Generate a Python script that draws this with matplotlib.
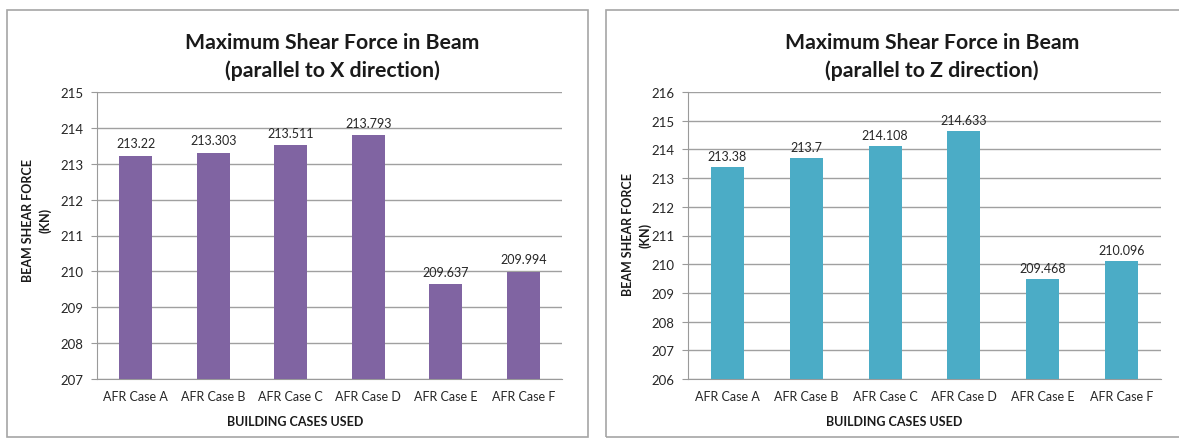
import numpy as np
import matplotlib.pyplot as plt
from matplotlib.patches import Rectangle

cases = ["AFR Case A", "AFR Case B", "AFR Case C", "AFR Case D", "AFR Case E", "AFR Case F"]
shear_x = [213.22, 213.303, 213.511, 213.793, 209.637, 209.994]
shear_z = [213.38, 213.7, 214.108, 214.633, 209.468, 210.096]
labels_x = ["213.22", "213.303", "213.511", "213.793", "209.637", "209.994"]
labels_z = ["213.38", "213.7", "214.108", "214.633", "209.468", "210.096"]

plt.rcParams['font.family'] = ['Lato', 'DejaVu Sans']

W, H = 1179, 439
fig = plt.figure(figsize=(W / 100, H / 100), dpi=100, facecolor='white')

# chart frames
fig.patches.append(Rectangle((7 / W, 0.002), 581 / W, 1 - 12 / H, transform=fig.transFigure,
                             fill=False, edgecolor='#a6a6a6', linewidth=1.2))
fig.patches.append(Rectangle((606 / W, 0.002), 590 / W, 1 - 12 / H, transform=fig.transFigure,
                             fill=False, edgecolor='#a6a6a6', linewidth=1.2))


def draw(ax, values, texts, color, ylim, title, cx, ylab_xy, xlab_x):
    x = np.arange(len(cases))
    ax.bar(x, values, width=0.42, color=color, zorder=3, bottom=0)
    ax.set_ylim(*ylim)
    ax.set_xlim(-0.5, len(cases) - 0.5)
    ax.set_yticks(range(ylim[0], ylim[1] + 1))
    ax.set_xticks(x)
    ax.set_xticklabels(cases, fontsize=9, color='#262626')
    ax.tick_params(axis='y', labelsize=9.5, labelcolor='#262626', length=4, color='#9a9a9a', pad=6)
    ax.tick_params(axis='x', length=0, pad=8)
    ax.grid(axis='y', color='#a0a0a0', linewidth=1.0, zorder=0)
    for s in ['top', 'right']:
        ax.spines[s].set_visible(False)
    ax.spines['left'].set_color('#9a9a9a')
    ax.spines['bottom'].set_color('#9a9a9a')
    for xi, v, t in zip(x, values, texts):
        ax.text(xi, v + 0.18, t, ha='center', va='bottom', fontsize=9, color='#262626')
    fig.text(ylab_xy[0] / W, 1 - ylab_xy[1] / H, "BEAM SHEAR FORCE\n(KN)", rotation=90,
             ha='center', va='center', fontsize=9, fontweight='bold', linespacing=1.5, color='#1a1a1a')
    fig.text(xlab_x / W, 1 - 422 / H, "BUILDING CASES USED", ha='center', va='center',
             fontsize=9, fontweight='bold', color='#1a1a1a')
    fig.text(cx / W, 1 - 57 / H, title, ha='center', va='center', fontsize=15.3, fontweight='bold',
             linespacing=1.5, color='#1a1a1a')


ax1 = fig.add_axes([97 / W, 1 - 380 / H, 465 / W, 287 / H])
draw(ax1, shear_x, labels_x, '#8064a2', (207, 215),
     "Maximum Shear Force in Beam\n(parallel to X direction)", 332, (37, 220), 295)

ax2 = fig.add_axes([688 / W, 1 - 380 / H, 473 / W, 287 / H])
draw(ax2, shear_z, labels_z, '#4bacc6', (206, 216),
     "Maximum Shear Force in Beam\n(parallel to Z direction)", 932, (637, 235), 894)

fig.savefig("out.png", dpi=100, facecolor='white')
